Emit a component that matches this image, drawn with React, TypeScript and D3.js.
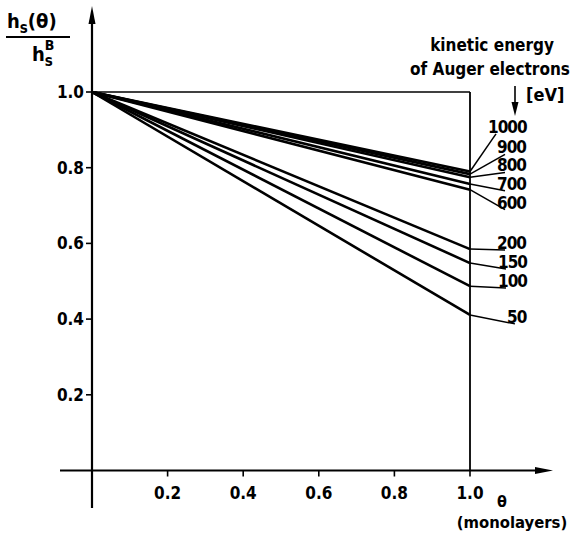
import React from "react";
import * as d3 from "d3";

const energies = ["1000", "900", "800", "700", "600", "200", "150", "100", "50"];
const thetaPoints = [0, 1.0];
const startValue = 1.0;
const endValues = [0.79, 0.783, 0.775, 0.757, 0.742, 0.585, 0.548, 0.487, 0.411];
// label anchor (baseline) in data units of h, layout only
const labelBaseAt = [0.892, 0.838, 0.79, 0.742, 0.692, 0.585, 0.535, 0.485, 0.39];
const labelXOff = [18, 27, 27, 27, 27, 27, 28, 28, 37];
const xTicks = [0.2, 0.4, 0.6, 0.8, 1.0];
const yTicks = [0.2, 0.4, 0.6, 0.8, 1.0];

const FONT = "'DejaVu Sans Condensed', 'DejaVu Sans', sans-serif";

export default function App() {
  const W = 573, H = 533;
  const x = d3.scaleLinear().domain([0, 1]).range([92, 470]);
  const y = d3.scaleLinear().domain([0, 1]).range([470.5, 92]);
  const line = d3.line<[number, number]>().x(d => x(d[0])).y(d => y(d[1]));

  return (
    <svg width={W} height={H} style={{ position: "absolute", left: 0, top: 0, background: "#fff" }}
      fontFamily={FONT} fontWeight="bold">
      {/* box */}
      <line x1={x(0)} x2={x(1)} y1={y(1)} y2={y(1)} stroke="#000" strokeWidth={1.6} />
      <line x1={x(1)} x2={x(1)} y1={y(1)} y2={y(0)} stroke="#000" strokeWidth={1.8} />
      {/* axes */}
      <line x1={x(0)} x2={x(0)} y1={20} y2={508} stroke="#000" strokeWidth={2.2} />
      <path d={`M${x(0)},6 L${x(0) - 3.5},24 L${x(0) + 3.5},24 Z`} fill="#000" />
      <line x1={60} x2={540} y1={y(0)} y2={y(0)} stroke="#000" strokeWidth={2.2} />
      <path d={`M553,${y(0)} L535,${y(0) - 3.5} L535,${y(0) + 3.5} Z`} fill="#000" />
      {/* ticks */}
      {yTicks.map(t => (
        <g key={"y" + t}>
          <line x1={x(0) - 6} x2={x(0)} y1={y(t)} y2={y(t)} stroke="#000" strokeWidth={1.6} />
          <text x={x(0) - 8} y={y(t)} dy="0.35em" textAnchor="end" fontSize={17}>{t.toFixed(1)}</text>
        </g>
      ))}
      {xTicks.map(t => (
        <g key={"x" + t}>
          <line x1={x(t)} x2={x(t)} y1={y(0)} y2={y(0) + 6} stroke="#000" strokeWidth={1.6} />
          <text x={x(t)} y={499} textAnchor="middle" fontSize={17}>{t.toFixed(1)}</text>
        </g>
      ))}
      {/* data lines */}
      {endValues.map((v, i) => (
        <path key={"l" + i}
          d={line(thetaPoints.map(t => [t, startValue + (v - startValue) * t]) as [number, number][]) || ""}
          fill="none" stroke="#000" strokeWidth={2.6} />
      ))}
      {/* leaders + labels */}
      {energies.map((e, i) => {
        const lx = x(1) + labelXOff[i];
        const ly = y(labelBaseAt[i]);
        return (
          <g key={"lab" + e}>
            <line x1={x(1)} y1={y(endValues[i])} x2={lx + 8} y2={ly + 1} stroke="#000" strokeWidth={1.5} />
            <text x={lx} y={ly} fontSize={17} letterSpacing={-1}>{e}</text>
          </g>
        );
      })}
      {/* legend title */}
      <text x={492} y={51} textAnchor="middle" fontSize={17}>kinetic energy</text>
      <text x={490} y={75} textAnchor="middle" fontSize={17}>of Auger electrons</text>
      <text x={526} y={101} fontSize={18}>[eV]</text>
      <line x1={515} x2={515} y1={86} y2={104} stroke="#000" strokeWidth={1.6} />
      <path d="M515,116 L511.5,102 L518.5,102 Z" fill="#000" />
      {/* x label */}
      <text x={502} y={507} textAnchor="middle" fontSize={16}>θ</text>
      <text x={512} y={528} textAnchor="middle" fontSize={16.5}>(monolayers)</text>
      {/* y label fraction */}
      <text x={7} y={28} fontSize={20}>h<tspan fontSize={15} dy={5}>s</tspan><tspan dy={-5} fontSize={20}>(θ)</tspan></text>
      <line x1={6} x2={70} y1={37} y2={37} stroke="#000" strokeWidth={2} />
      <text x={32} y={61} fontSize={20}>h<tspan fontSize={15} dy={5}>s</tspan><tspan fontSize={14} dx={-8} dy={-16}>B</tspan></text>
    </svg>
  );
}
